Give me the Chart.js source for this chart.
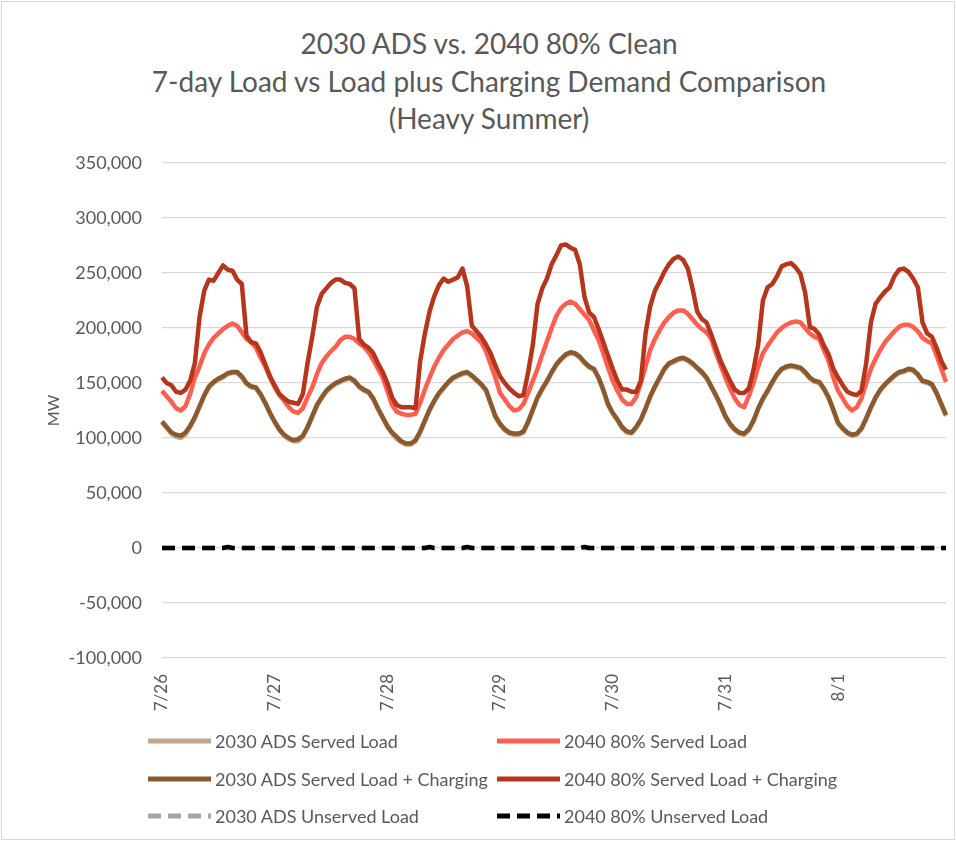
<!DOCTYPE html>
<html>
<head>
<meta charset="utf-8">
<script src="https://cdn.jsdelivr.net/npm/chart.js@4.4.1/dist/chart.umd.min.js"></script>
<style>
    body { margin: 0; background: #fff; }
    #wrap { position: relative; width: 956px; height: 842px; font-family: Lato, "Open Sans", sans-serif; color: #595959; }
    #frame { position: absolute; left: 1px; top: 1px; width: 952px; height: 837px; border: 1px solid #d9d9d9; }
    #title { position: absolute; left: 0; top: 25px; width: 978px; text-align: center; font-size: 28px; line-height: 37.5px; }
    #chartBox { position: absolute; left: 0; top: 0; width: 956px; height: 842px; }
    .item { position: absolute; height: 24px; display: flex; align-items: center; font-size: 18px; white-space: nowrap; }
    .item svg { margin-right: 4px; }
</style>
</head>
<body>
<div id="wrap">
    <div id="frame"></div>
    <div id="title">2030 ADS vs. 2040 80% Clean<br>7-day Load vs Load plus Charging Demand Comparison<br>(Heavy Summer)</div>
    <div id="chartBox"><canvas id="loadChart" width="956" height="842"></canvas></div>
    <div id="legend"></div>
</div>
<script>
// ngày trên trục x, mỗi ngày 24 giờ
var days = ['7/26', '7/27', '7/28', '7/29', '7/30', '7/31', '8/1'];
var hourOfDay = [0, 1, 2, 3, 4, 5, 6, 7, 8, 9, 10, 11, 12, 13, 14, 15, 16, 17, 18, 19, 20, 21, 22, 23];

// giá trị theo nghìn MW
var ads2030Served = [
    114, 109, 104, 101, 100, 103, 110, 118, 128, 138, 146, 150, 153, 155, 158, 159, 159, 155, 149, 146, 145, 139, 131, 122,
    114, 107, 102, 99, 97, 97, 101, 109, 119, 129, 136, 142, 146, 149, 151, 153, 154, 151, 146, 143, 141, 135, 126, 118,
    110, 104, 99, 96, 94, 94, 97, 105, 115, 125, 133, 140, 145, 150, 154, 156, 158, 159, 156, 152, 148, 143, 131, 119,
    112, 107, 104, 103, 103, 105, 114, 125, 136, 144, 151, 159, 166, 171, 175, 177, 176, 173, 168, 164, 162, 154, 143, 130,
    122, 116, 109, 105, 104, 109, 116, 126, 137, 146, 154, 162, 167, 169, 171, 172, 170, 167, 163, 159, 154, 146, 138, 129,
    119, 112, 107, 104, 103, 107, 115, 126, 135, 142, 150, 157, 162, 164, 165, 164, 163, 159, 154, 151, 150, 144, 136, 125,
    113, 108, 104, 102, 103, 108, 117, 127, 136, 143, 148, 152, 156, 159, 160, 162, 161, 157, 151, 150, 148, 140, 130, 120
];
var clean2040Served = [
    143, 138, 133, 127, 125, 129, 140, 155, 165, 177, 185, 191, 195, 199, 202, 204, 202, 196, 190, 187, 182, 173, 165, 155,
    146, 139, 134, 128, 124, 123, 127, 137, 146, 158, 168, 174, 179, 183, 189, 192, 192, 190, 186, 183, 178, 171, 163, 155,
    143, 130, 124, 122, 121, 121, 122, 132, 144, 155, 165, 173, 180, 185, 190, 193, 196, 197, 195, 191, 187, 179, 167, 155,
    141, 135, 129, 125, 126, 131, 141, 152, 163, 176, 188, 200, 211, 218, 222, 224, 222, 217, 212, 207, 198, 189, 177, 164,
    152, 143, 135, 131, 131, 137, 150, 165, 180, 190, 198, 205, 210, 214, 216, 216, 213, 208, 203, 199, 196, 190, 177, 166,
    155, 145, 136, 130, 128, 138, 150, 165, 177, 184, 190, 196, 200, 203, 205, 206, 205, 200, 195, 192, 190, 180, 170, 155,
    143, 136, 129, 125, 128, 136, 150, 163, 172, 180, 187, 192, 197, 201, 203, 203, 201, 197, 191, 188, 186, 175, 163, 151
];
var ads2030Charging = [
    115, 110, 105, 103, 102, 105, 111, 119, 129, 139, 147, 151, 154, 156, 159, 160, 160, 156, 150, 147, 146, 140, 132, 123,
    115, 108, 103, 100, 98, 99, 102, 110, 120, 130, 137, 143, 147, 150, 152, 154, 155, 152, 147, 144, 142, 136, 127, 119,
    111, 105, 101, 97, 95, 95, 98, 106, 116, 126, 134, 141, 146, 151, 155, 157, 159, 160, 157, 153, 149, 144, 132, 120,
    113, 108, 105, 104, 104, 106, 115, 126, 137, 145, 152, 160, 167, 172, 176, 178, 177, 174, 169, 165, 163, 155, 144, 131,
    123, 117, 110, 106, 105, 110, 117, 127, 138, 147, 155, 163, 168, 170, 172, 173, 171, 168, 164, 160, 155, 147, 139, 130,
    120, 113, 108, 105, 104, 108, 116, 127, 136, 143, 151, 158, 163, 165, 166, 165, 164, 160, 155, 152, 151, 145, 137, 126,
    114, 109, 105, 103, 104, 109, 118, 128, 137, 144, 149, 153, 157, 160, 161, 163, 162, 158, 152, 151, 149, 141, 131, 121
];
var clean2040Charging = [
    155, 150, 148, 142, 141, 144, 152, 168, 210, 234, 244, 243, 250, 257, 253, 252, 244, 240, 193, 187, 186, 178, 167, 156,
    148, 140, 136, 133, 132, 131, 140, 168, 192, 219, 231, 236, 241, 244, 244, 241, 240, 236, 190, 185, 182, 177, 168, 160,
    150, 137, 130, 128, 128, 128, 127, 170, 195, 215, 229, 239, 245, 242, 244, 246, 254, 238, 202, 197, 192, 185, 177, 166,
    156, 150, 145, 141, 138, 139, 160, 185, 222, 236, 245, 258, 266, 275, 276, 273, 271, 258, 228, 214, 210, 199, 187, 175,
    163, 152, 144, 144, 142, 142, 152, 195, 220, 234, 242, 251, 258, 263, 265, 262, 254, 236, 215, 208, 205, 194, 182, 170,
    161, 152, 144, 141, 141, 145, 162, 185, 225, 237, 240, 247, 256, 258, 259, 255, 249, 232, 201, 199, 194, 184, 176, 163,
    155, 148, 142, 140, 139, 143, 168, 205, 222, 228, 233, 237, 247, 253, 254, 251, 245, 237, 205, 195, 192, 182, 170, 162
];
var ads2030Unserved = [
    0, 0, 0, 0, 0, 0, 0, 0, 0, 0, 0, 0, 0, 0, 0, 0, 0, 0, 0, 0, 0, 0, 0, 0,
    0, 0, 0, 0, 0, 0, 0, 0, 0, 0, 0, 0, 0, 0, 0, 0, 0, 0, 0, 0, 0, 0, 0, 0,
    0, 0, 0, 0, 0, 0, 0, 0, 0, 0, 0, 0, 0, 0, 0, 0, 0, 0, 0, 0, 0, 0, 0, 0,
    0, 0, 0, 0, 0, 0, 0, 0, 0, 0, 0, 0, 0, 0, 0, 0, 0, 0, 0, 0, 0, 0, 0, 0,
    0, 0, 0, 0, 0, 0, 0, 0, 0, 0, 0, 0, 0, 0, 0, 0, 0, 0, 0, 0, 0, 0, 0, 0,
    0, 0, 0, 0, 0, 0, 0, 0, 0, 0, 0, 0, 0, 0, 0, 0, 0, 0, 0, 0, 0, 0, 0, 0,
    0, 0, 0, 0, 0, 0, 0, 0, 0, 0, 0, 0, 0, 0, 0, 0, 0, 0, 0, 0, 0, 0, 0, 0
];
var clean2040Unserved = [
    0, 0, 0, 0, 0, 0, 0, 0, 0, 0, 0, 0, 0, 0, 1, 0, 0, 0, 0, 0, 0, 0, 0, 0,
    0, 0, 0, 0, 0, 0, 0, 0, 0, 0, 0, 0, 0, 0, 0, 0, 0, 0, 0, 0, 0, 0, 0, 0,
    0, 0, 0, 0, 0, 0, 0, 0, 0, 1, 0, 0, 0, 0, 0, 0, 0, 1, 0, 0, 0, 0, 0, 0,
    0, 0, 0, 0, 0, 0, 0, 0, 0, 0, 0, 0, 0, 0, 0, 0, 0, 0, 1, 0, 0, 0, 0, 0,
    0, 0, 0, 0, 0, 0, 0, 0, 0, 0, 0, 0, 0, 0, 0, 0, 0, 0, 0, 0, 0, 0, 0, 0,
    0, 0, 0, 0, 0, 0, 0, 0, 0, 0, 0, 0, 0, 0, 0, 0, 0, 0, 0, 0, 0, 0, 0, 0,
    0, 0, 0, 0, 0, 0, 0, 0, 0, 0, 0, 0, 0, 0, 0, 0, 0, 0, 0, 0, 0, 0, 0, 0
];

var labels = days.flatMap(d => hourOfDay.map(h => d + ' ' + h + ':00'));

var series = [
    { label: '2030 ADS Served Load', data: ads2030Served, color: '#c4a68c', dash: [] },
    { label: '2040 80% Served Load', data: clean2040Served, color: '#ff5f4f', dash: [] },
    { label: '2030 ADS Served Load + Charging', data: ads2030Charging, color: '#8a5a2e', dash: [] },
    { label: '2040 80% Served Load + Charging', data: clean2040Charging, color: '#b5361c', dash: [] },
    { label: '2030 ADS Unserved Load', data: ads2030Unserved, color: '#a6a6a6', dash: [13, 7] },
    { label: '2040 80% Unserved Load', data: clean2040Unserved, color: '#000000', dash: [13, 7] }
];

var ctx = document.getElementById('loadChart').getContext('2d');
var loadChart = new Chart(ctx, {
    type: 'line',
    data: {
        labels: labels,
        datasets: series.map((s, i) => ({
            label: s.label,
            data: s.data,
            borderColor: s.color,
            backgroundColor: s.color,
            borderWidth: 4.5,
            borderDash: s.dash,
            borderJoinStyle: 'round',
            pointRadius: 0,
            tension: 0,
            fill: false,
            order: series.length - i // series sau vẽ đè lên trên
        }))
    },
    options: {
        responsive: false,
        animation: false,
        layout: { padding: { left: 44, right: 10, top: 163, bottom: 122 } },
        plugins: {
            legend: { display: false },
            tooltip: { enabled: false }
        },
        scales: {
            x: {
                grid: { display: false },
                border: { display: false },
                ticks: {
                    autoSkip: false,
                    minRotation: 90,
                    maxRotation: 90,
                    padding: 8,
                    color: '#595959',
                    font: { family: 'Lato', size: 17 },
                    callback: function (value, index) {
                        return index % 24 === 0 ? days[index / 24] : '';
                    }
                },
                afterFit: function (scale) {
                    scale.height = 62;
                    scale.paddingLeft = 0;
                    scale.paddingRight = 0;
                }
            },
            y: {
                min: -100,
                max: 350,
                grid: { color: '#d9d9d9', lineWidth: 1.3, drawTicks: false },
                border: { display: false },
                ticks: {
                    stepSize: 50,
                    padding: 20,
                    color: '#595959',
                    font: { family: 'Lato', size: 18 },
                    callback: function (value) {
                        return (value * 1000).toLocaleString('en-US');
                    }
                },
                title: {
                    display: true,
                    text: 'MW',
                    color: '#595959',
                    padding: 0,
                    font: { family: 'Lato', size: 16 }
                },
                afterFit: function (scale) { scale.width = 118; }
            }
        }
    }
});

// chú thích 2 cột, 3 hàng như Excel
var legendPos = [[148, 729], [497, 729], [148, 767], [497, 767], [148, 804], [497, 804]];
var legendBox = document.getElementById('legend');
series.forEach(function (s, i) {
    var dashAttr = s.dash.length ? ' stroke-dasharray="' + s.dash.join(' ') + '"' : '';
    var item = document.createElement('div');
    item.className = 'item';
    item.style.left = legendPos[i][0] + 'px';
    item.style.top = legendPos[i][1] + 'px';
    item.innerHTML = '<svg width="63" height="8"><line x1="0" y1="4" x2="63" y2="4" stroke="' + s.color +
        '" stroke-width="5"' + dashAttr + '/></svg>' + s.label;
    legendBox.appendChild(item);
});
</script>
</body>
</html>
